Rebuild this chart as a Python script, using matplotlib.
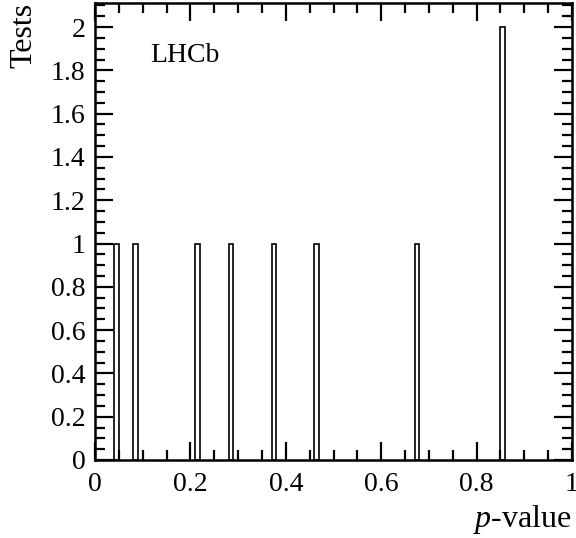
import numpy as np
import matplotlib.pyplot as plt
from matplotlib.ticker import MultipleLocator, FormatStrFormatter

# Histogram content: left edges of the filled bins and their counts
bin_left = [0.04, 0.08, 0.21, 0.28, 0.37, 0.46, 0.67, 0.85]
counts = [1, 1, 1, 1, 1, 1, 1, 2]
bin_width = 0.01

plt.rcParams['font.family'] = 'Liberation Serif'
plt.rcParams['mathtext.fontset'] = 'custom'
plt.rcParams['mathtext.rm'] = 'Liberation Serif'
plt.rcParams['mathtext.it'] = 'Liberation Serif:italic'

fig = plt.figure(figsize=(5.76, 5.38), dpi=100)
ax = fig.add_axes([0.165, 0.145, 0.828, 0.849])

ax.bar(bin_left, counts, width=bin_width, align='edge',
       facecolor='white', edgecolor='black', linewidth=1.2)

ax.set_xlim(0, 1)
ax.set_ylim(0, 2.11)

ax.xaxis.set_major_locator(MultipleLocator(0.2))
ax.xaxis.set_minor_locator(MultipleLocator(0.05))
ax.yaxis.set_major_locator(MultipleLocator(0.2))
ax.yaxis.set_minor_locator(MultipleLocator(0.05))
ax.xaxis.set_major_formatter(FormatStrFormatter('%g'))
ax.yaxis.set_major_formatter(FormatStrFormatter('%g'))

ax.tick_params(which='both', direction='in', top=True, right=True,
               labelsize=20, width=1.6)
ax.tick_params(which='major', length=13)
ax.tick_params(which='minor', length=7)
ax.tick_params(axis='x', pad=9)
ax.tick_params(axis='y', pad=7)
for s in ax.spines.values():
    s.set_linewidth(1.8)

ax.set_xlabel('$p$-value', fontsize=23, loc='right', labelpad=4)
ax.set_ylabel('Tests', fontsize=23, loc='top', labelpad=9)

ax.text(0.115, 1.87, 'LHCb', fontsize=20, va='center', ha='left')

fig.savefig('out.png', dpi=100)
